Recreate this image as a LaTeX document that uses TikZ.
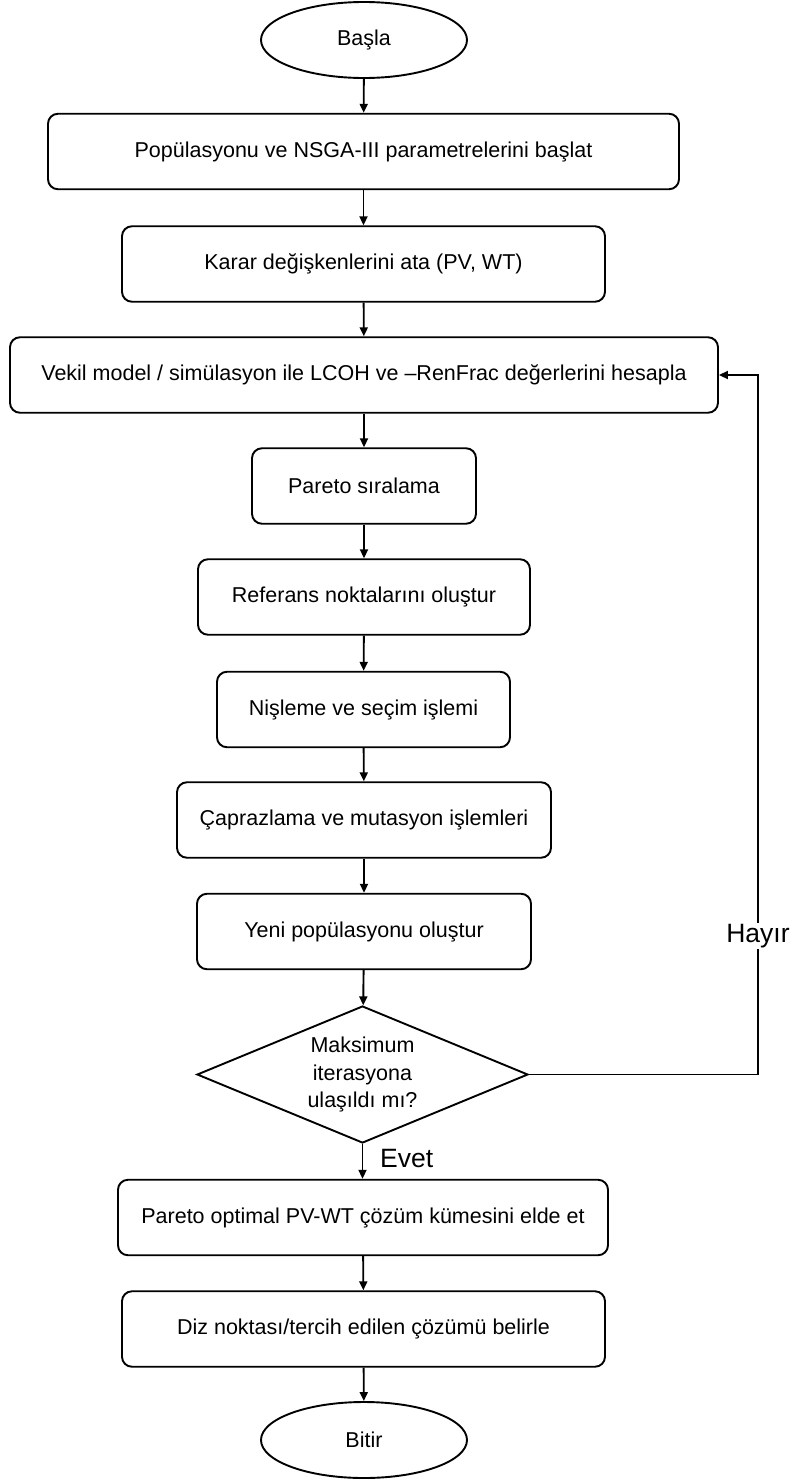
\documentclass[tikz,border=0pt]{standalone}
\usepackage{fontspec}
\setmainfont{Liberation Sans}
\usetikzlibrary{shapes.geometric,arrows.meta}
\begin{document}
\begin{tikzpicture}[x=1pt,y=-1pt,
  txt/.style={font=\fontsize{21.5}{27.5}\selectfont},
  box/.style={txt, draw, line width=1.9pt, rounded corners=10pt, minimum height=75.5pt, inner sep=0pt, fill=white},
  term/.style={txt, draw, ellipse, line width=1.9pt, minimum width=206pt, minimum height=76pt, inner sep=0pt, fill=white},
  dec/.style={txt, draw, diamond, line width=1.9pt, minimum width=331pt, minimum height=137pt, aspect=2.42, inner sep=0pt, align=center},
  conn/.style={line width=1.9pt, -{Triangle[length=9pt,width=8pt]}},
  lbl/.style={font=\fontsize{26.5}{30}\selectfont, inner sep=1pt}]
\useasboundingbox (0,0) rectangle (795,1481);

\node[term] (start) at (364,40) {Başla};
\node[box, minimum width=631pt] (b1) at (363.5,151.5) {Popülasyonu ve NSGA-III parametrelerini başlat};
\node[box, minimum width=483pt] (b2) at (363.5,264) {Karar değişkenlerini ata (PV, WT)};
\node[box, minimum width=708pt] (b3) at (364,375) {Vekil model / simülasyon ile LCOH ve –RenFrac değerlerini hesapla};
\node[box, minimum width=224pt] (b4) at (364,486) {Pareto sıralama};
\node[box, minimum width=332pt] (b5) at (364,597) {Referans noktalarını oluştur};
\node[box, minimum width=293pt] (b6) at (363.5,709.5) {Nişleme ve seçim işlemi};
\node[box, minimum width=374pt] (b7) at (364,820) {Çaprazlama ve mutasyon işlemleri};
\node[box, minimum width=334pt] (b8) at (364,931.5) {Yeni popülasyonu oluştur};
\node[dec] (d) at (362.5,1074.5) {Maksimum\\iterasyona\\ulaşıldı mı?};
\node[box, minimum width=490pt] (b9) at (363,1217.5) {Pareto optimal PV-WT çözüm kümesini elde et};
\node[box, minimum width=483pt] (b10) at (363.5,1329) {Diz noktası/tercih edilen çözümü belirle};
\node[term] (stop) at (364,1440) {Bitir};

\draw[conn] (start) -- (b1);
\draw[conn] (b1) -- (b2);
\draw[conn] (b2) -- (b3);
\draw[conn] (b3) -- (b4);
\draw[conn] (b4) -- (b5);
\draw[conn] (b5) -- (b6);
\draw[conn] (b6) -- (b7);
\draw[conn] (b7) -- (b8);
\draw[conn] (b8) -- (d);
\draw[conn] (d.south) -- (d.south |- b9.north);
\draw[conn] (b9) -- (b10);
\draw[conn] (b10) -- (stop);

\coordinate (c1) at (758,1074.5);
\coordinate (c2) at (758,375);
\draw[conn] (d.east) -- (c1) -- (c2) -- (b3.east);

\node[lbl, fill=white] (hayir) at (758,936) {Hayır};
\node[lbl, anchor=west] (evet) at (379,1158) {Evet};
\end{tikzpicture}
\end{document}
